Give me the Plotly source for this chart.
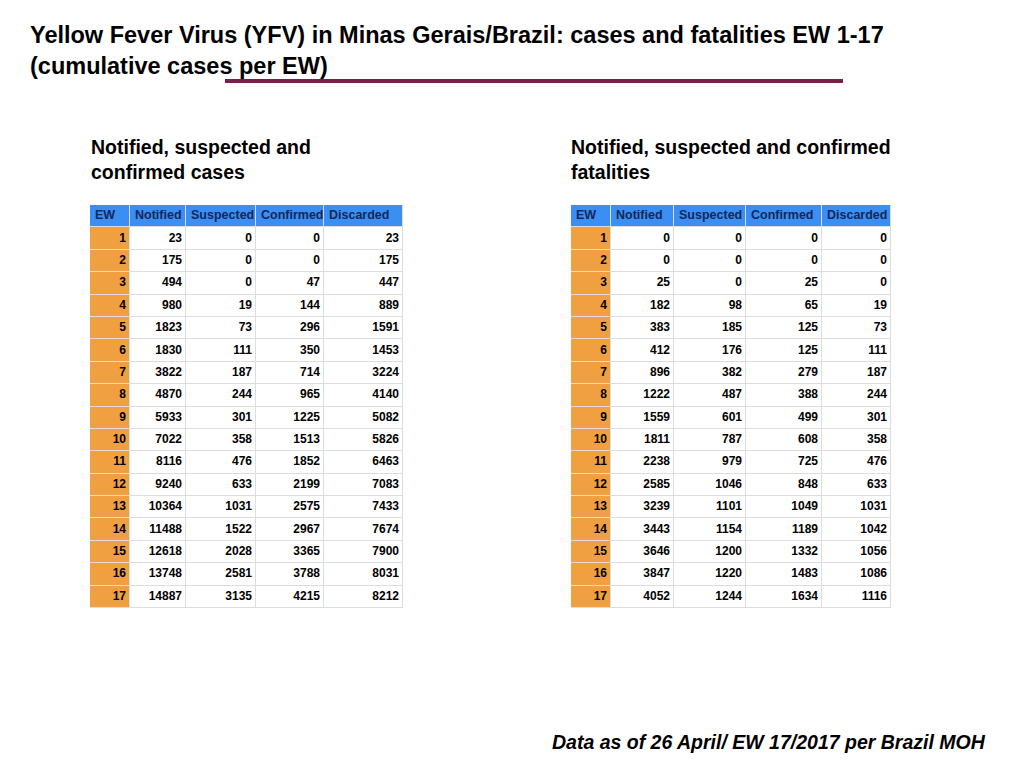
import plotly.graph_objects as go
from plotly.subplots import make_subplots

ew = list(range(1, 18))
cases_notified = [23, 175, 494, 980, 1823, 1830, 3822, 4870, 5933, 7022, 8116, 9240, 10364, 11488, 12618, 13748, 14887]
cases_suspected = [0, 0, 0, 19, 73, 111, 187, 244, 301, 358, 476, 633, 1031, 1522, 2028, 2581, 3135]
cases_confirmed = [0, 0, 47, 144, 296, 350, 714, 965, 1225, 1513, 1852, 2199, 2575, 2967, 3365, 3788, 4215]
cases_discarded = [23, 175, 447, 889, 1591, 1453, 3224, 4140, 5082, 5826, 6463, 7083, 7433, 7674, 7900, 8031, 8212]

fat_notified = [0, 0, 25, 182, 383, 412, 896, 1222, 1559, 1811, 2238, 2585, 3239, 3443, 3646, 3847, 4052]
fat_suspected = [0, 0, 0, 98, 185, 176, 382, 487, 601, 787, 979, 1046, 1101, 1154, 1200, 1220, 1244]
fat_confirmed = [0, 0, 25, 65, 125, 125, 279, 388, 499, 608, 725, 848, 1049, 1189, 1332, 1483, 1634]
fat_discarded = [0, 0, 0, 19, 73, 111, 187, 244, 301, 358, 476, 633, 1031, 1042, 1056, 1086, 1116]

headers = ["EW", "Notified", "Suspected", "Confirmed", "Discarded"]

W, H = 1024, 768
OFF = 8  # page body margin in the browser
BLUE = "#3b8ef2"
ORANGE = "#f0a040"
FONT = "Liberation Sans, Arial"


def px(x):
    return (x - OFF) / W


def py(y):
    return 1 - (y - OFF) / H


fig = make_subplots(rows=1, cols=2)


def add_table(col, cols, x0, x1, widths):
    edges = [0]
    for w in widths:
        edges.append(edges[-1] + w)
    n = len(ew)
    z = [[0] * 5] + [[1] + [2] * 4 for _ in range(n)]
    fig.add_trace(go.Heatmap(z=z, x=edges, y=list(range(n + 1)), zmin=0, zmax=2,
                             colorscale=[[0, BLUE], [0.5, ORANGE], [1, "white"]],
                             showscale=False, xgap=1, ygap=1, hoverinfo="skip"), row=1, col=col)
    rows = list(range(1, n + 1))
    fig.add_trace(go.Scatter(x=[e + 5 for e in edges[:-1]], y=[0] * 5, mode="text",
                             text=["<b>%s</b>" % h for h in headers], textposition="middle right",
                             textfont=dict(family=FONT, size=12.5, color="#14285a"),
                             hoverinfo="skip", showlegend=False), row=1, col=col)
    for i, c in enumerate([ew] + cols):
        fig.add_trace(go.Scatter(x=[edges[i + 1] - 4] * n, y=rows, mode="text",
                                 text=["<b>%d</b>" % v for v in c], textposition="middle left",
                                 textfont=dict(family=FONT, size=12, color="black"),
                                 hoverinfo="skip", showlegend=False), row=1, col=col)
    axn = "" if col == 1 else str(col)
    fig.update_layout(**{
        "xaxis" + axn: dict(domain=[px(x0), px(x1)], range=[0, edges[-1]], visible=False, fixedrange=True),
        "yaxis" + axn: dict(domain=[py(608), py(205)], range=[n + 0.5, -0.5], visible=False, fixedrange=True),
    })


add_table(1, [cases_notified, cases_suspected, cases_confirmed, cases_discarded],
          90, 403, [40, 56, 70, 68, 79])
add_table(2, [fat_notified, fat_suspected, fat_confirmed, fat_discarded],
          571, 891, [40, 63, 72, 76, 69])

fig.add_annotation(x=px(28), y=py(20), xref="paper", yref="paper", xanchor="left", yanchor="top",
                   align="left", showarrow=False,
                   text="<b>Yellow Fever Virus (YFV) in Minas Gerais/Brazil: cases and fatalities EW 1-17<br>(cumulative cases per EW)</b>",
                   font=dict(family=FONT, size=23.5, color="black"))
fig.add_shape(type="line", xref="paper", yref="paper", x0=px(225), x1=px(843), y0=py(81), y1=py(81),
              line=dict(color="#7a2048", width=4))
fig.add_annotation(x=px(89), y=py(134), xref="paper", yref="paper", xanchor="left", yanchor="top",
                   align="left", showarrow=False,
                   text="<b>Notified, suspected and<br>confirmed cases</b>",
                   font=dict(family=FONT, size=19.5, color="black"))
fig.add_annotation(x=px(569), y=py(134), xref="paper", yref="paper", xanchor="left", yanchor="top",
                   align="left", showarrow=False,
                   text="<b>Notified, suspected and confirmed<br>fatalities</b>",
                   font=dict(family=FONT, size=19.5, color="black"))
fig.add_annotation(x=px(988), y=py(742), xref="paper", yref="paper", xanchor="right", yanchor="middle",
                   showarrow=False,
                   text="<b><i>Data as of 26 April/ EW 17/2017 per Brazil MOH</i></b>",
                   font=dict(family=FONT, size=19.5, color="black"))

fig.update_layout(width=W, height=H, margin=dict(l=0, r=0, t=0, b=0),
                  paper_bgcolor="white", plot_bgcolor="#dddddd", showlegend=False)
fig.write_html("out.html")
